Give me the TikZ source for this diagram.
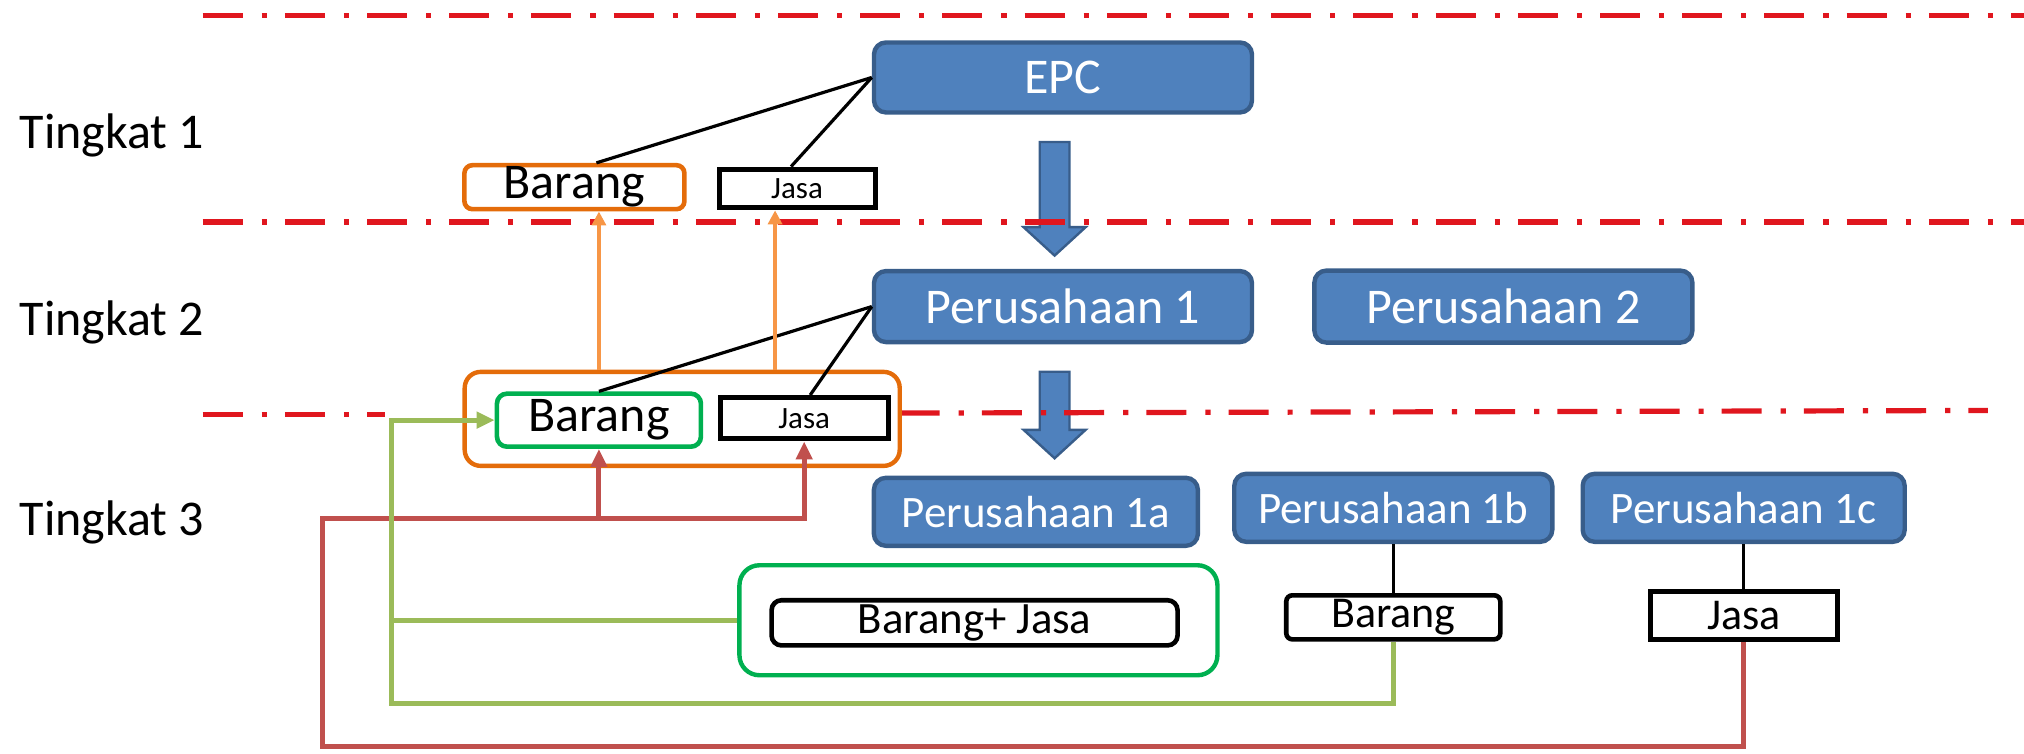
\documentclass[tikz,border=0pt]{standalone}
\usepackage{fontspec}
\setmainfont{Carlito}
\usetikzlibrary{positioning}
\usetikzlibrary{arrows.meta}
\definecolor{boxBlue}{HTML}{4F81BD}
\definecolor{boxBlueLine}{HTML}{385D8A}
\definecolor{tierRed}{HTML}{E0161E}
\definecolor{groupOrange}{HTML}{E46C0A}
\definecolor{arrowOrange}{HTML}{F79646}
\definecolor{groupGreen}{HTML}{00B050}
\definecolor{flowGreen}{HTML}{9BBB59}
\definecolor{flowRed}{HTML}{C0504D}
\tikzstyle{tierLabel} = [anchor=west, inner sep=0pt, font=\fontsize{25}{30}\selectfont]
\tikzstyle{tierLine} = [tierRed, line width=2.6pt, dash pattern=on 20pt off 9.5pt on 2.6pt off 9pt]
\tikzstyle{company} = [draw=boxBlueLine, fill=boxBlue, line width=2.2pt, rounded corners=6pt, text=white, inner sep=0pt, font=\fontsize{25}{30}\selectfont]
\tikzstyle{subcompany} = [company, minimum height=34pt, font=\fontsize{22.5}{27}\selectfont]
\tikzstyle{goods} = [draw, fill=white, line width=2.3pt, rounded corners=4pt, inner sep=0pt, font=\fontsize{25}{30}\selectfont]
\tikzstyle{service} = [draw, fill=white, line width=2.5pt, inner sep=0pt, font=\fontsize{15.5}{18}\selectfont]
\tikzstyle{groupBox} = [draw, fill=white, line width=2.2pt, rounded corners=8pt]
\tikzstyle{blockArrow} = [fill=boxBlue, draw=boxBlueLine, line width=1.2pt]
\tikzstyle{tie} = [draw, line width=1.6pt]
\tikzstyle{supplyUp} = [draw=arrowOrange, line width=1.8pt, -{Triangle[length=7pt, width=7pt]}]
\tikzstyle{returnRed} = [draw=flowRed, line width=2.5pt, -{Triangle[length=9pt, width=8pt]}]
\tikzstyle{returnGreen} = [draw=flowGreen, line width=2.5pt, -{Triangle[length=9pt, width=8pt]}]
\tikzstyle{greenLine} = [draw=flowGreen, line width=2.5pt]

\begin{document}
\begin{tikzpicture}[x=0.6454pt, y=-0.6454pt]
	\useasboundingbox (0,0) rectangle (1568,584);
	
	% big downward arrows between the tiers
	\coordinate (pushA) at (817,110);
	\coordinate (pushB) at (817,288);
	\path[blockArrow] (pushA) ++(-11.5,0) -- ++(23,0) -- ++(0,66) -- ++(12.5,0) -- ++(-24,22) -- ++(-24,-22) -- ++(12.5,0) -- cycle;
	\path[blockArrow] (pushB) ++(-11.5,0) -- ++(23,0) -- ++(0,45) -- ++(12.5,0) -- ++(-24,22) -- ++(-24,-22) -- ++(12.5,0) -- cycle;
	
	% tier borders
	\draw[tierLine] (157,12) -- (1568,12);
	\draw[tierLine] (157,172) -- (1568,172);
	\draw[tierLine] (157,321) -- (298,321);
	\draw[tierLine] (697,320) -- (1540,318);
	
	\node[tierLabel] (tierOne) at (15,105) {Tingkat 1};
	\node[tierLabel] (tierTwo) at (15,250) {Tingkat 2};
	\node[tierLabel] (tierThree) at (15,405) {Tingkat 3};
	
	\node[company, minimum width=189pt, minimum height=35pt] (epc) at (823.5,60) {EPC};
	\node[company, minimum width=189pt, minimum height=35.5pt] (p1) at (823.5,237.5) {Perusahaan 1};
	\node[company, minimum width=189pt, minimum height=36pt, right = 29pt of p1] (p2) {Perusahaan 2};
	\node[subcompany, minimum width=162pt] (p1a) at (802.5,396.5) {Perusahaan 1a};
	\node[subcompany, minimum width=159pt, right = 16pt of p1a, yshift=2pt] (p1b) {Perusahaan 1b};
	\node[subcompany, minimum width=161pt, right = 13pt of p1b] (p1c) {Perusahaan 1c};
	
	\node[goods, draw=groupOrange, minimum width=110pt, minimum height=22pt] (barangA) at (445,145) {Barang};
	\node[service, minimum width=78pt, minimum height=19.4pt] (jasaA) at (617.5,146) {Jasa};
	
	\node[groupBox, draw=groupOrange, minimum width=217.5pt, minimum height=47pt] (groupB) at (528.5,324.5) {};
	\node[goods, draw=groupGreen, rounded corners=5pt, minimum width=102pt, minimum height=26.5pt] (barangB) at (464,325.5) {Barang};
	\node[service, minimum width=84pt, minimum height=20.7pt] (jasaB) at (623,324) {Jasa};
	
	\node[groupBox, draw=groupGreen, rounded corners=10pt, minimum width=239pt, minimum height=55pt] (groupC) at (758,480.5) {};
	\node[goods, rounded corners=5pt, minimum width=203pt, minimum height=22.6pt, font=\fontsize{22.4}{27}\selectfont] (bundleC) at (755,482.5) {Barang+ Jasa};
	\node[goods, rounded corners=3pt, minimum width=107pt, minimum height=22pt, font=\fontsize{22}{26}\selectfont, below = 24.5pt of p1b] (barangC) {Barang};
	\node[service, minimum width=93.6pt, minimum height=24pt, font=\fontsize{22}{26}\selectfont, below = 22.6pt of p1c] (jasaC) {Jasa};
	
	\path[tie] (epc.west) -- ([xshift=11pt]barangA.north);
	\path[tie] (epc.west) -- ([xshift=-3pt]jasaA.north);
	\path[tie] (p1.west) -- (barangB.north);
	\path[tie] (p1.west) -- ([xshift=3pt]jasaB.north);
	\path[tie] (p1b) -- (barangC);
	\path[tie] (p1c) -- (jasaC);
	
	\coordinate (jasaLift) at ([xshift=-11pt]jasaA.south);
	\path[supplyUp] (groupB.north -| barangB) -- (barangA.south -| barangB);
	\path[supplyUp] (jasaLift |- groupB.north) -- (jasaLift);
	
	\coordinate (redLow) at (250,578);
	\coordinate (redHigh) at (250,402);
	\path[returnRed] (jasaC.south) |- (redLow) -- (redHigh) -| (jasaB.south);
	\path[returnRed] (redHigh -| barangB.south) -- (barangB.south);
	
	\coordinate (greenLow) at (303,545);
	\path[returnGreen] (barangC.south) |- (greenLow) |- (barangB.west);
	\path[greenLine] (groupC.west) -- (groupC.west -| greenLow);
\end{tikzpicture}
\end{document}
